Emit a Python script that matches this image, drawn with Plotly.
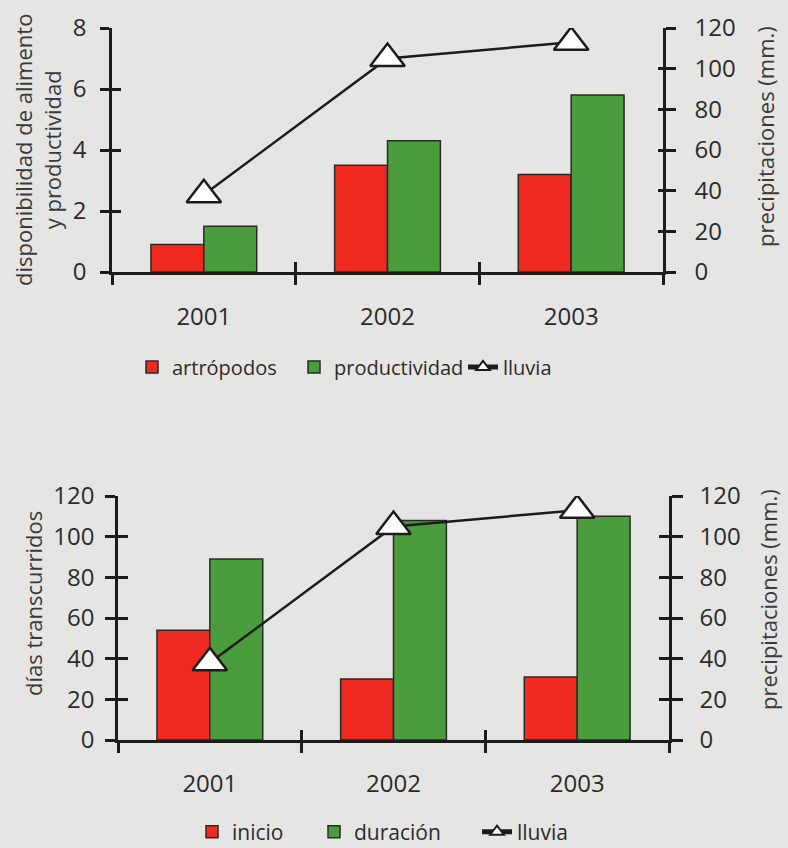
import plotly.graph_objects as go

# ---- data ----
years = ["2001", "2002", "2003"]
artropodos = [0.9, 3.5, 3.2]
productividad = [1.5, 4.3, 5.8]
lluvia = [38, 105, 113]
inicio = [54, 30, 31]
duracion = [89, 108, 110]

RED = "#ee2a21"
GREEN = "#4a9c3c"
EDGE = "#2a2a2a"
AX = "#1c1c1c"
TXT = "#2b2b2b"
BG = "#e5e5e3"
FONT = "Open Sans"

W, H = 788, 848


def px_x(v):
    return v / W


def px_y(v):
    return 1 - v / H


fig = go.Figure()

bar_line = dict(color=EDGE, width=1.5)
tri = dict(symbol="triangle-up", size=30, color="white", line=dict(color=AX, width=2.5))

# top chart
fig.add_trace(go.Bar(x=years, y=artropodos, name="artrópodos", marker=dict(color=RED, line=bar_line),
                     xaxis="x", yaxis="y", legend="legend"))
fig.add_trace(go.Bar(x=years, y=productividad, name="productividad", marker=dict(color=GREEN, line=bar_line),
                     xaxis="x", yaxis="y", legend="legend2"))
fig.add_trace(go.Scatter(x=years, y=lluvia, name="lluvia", mode="lines+markers",
                         line=dict(color=AX, width=2.5), marker=tri,
                         xaxis="x", yaxis="y2", legend="legend3"))
# bottom chart
fig.add_trace(go.Bar(x=years, y=inicio, name="inicio", marker=dict(color=RED, line=bar_line),
                     xaxis="x2", yaxis="y3", legend="legend4"))
fig.add_trace(go.Bar(x=years, y=duracion, name="duración", marker=dict(color=GREEN, line=bar_line),
                     xaxis="x2", yaxis="y3", legend="legend5"))
fig.add_trace(go.Scatter(x=years, y=lluvia, name="lluvia", mode="lines+markers",
                         line=dict(color=AX, width=2.5), marker=tri,
                         xaxis="x2", yaxis="y4", legend="legend6"))

# invisible helper traces so the tick-overlay axes are drawn
for xa, ya in [("x3", "y5"), ("x", "y6"), ("x4", "y7"), ("x2", "y8")]:
    fig.add_trace(go.Scatter(x=years, y=[None, None, None], mode="markers", showlegend=False,
                             hoverinfo="skip", xaxis=xa, yaxis=ya))

tickfont = dict(family=FONT, size=24, color=TXT)

top_xdom = [px_x(112), px_x(663)]
top_ydom = [px_y(272), px_y(28)]
bot_xdom = [px_x(118), px_x(669)]
bot_ydom = [px_y(740), px_y(496)]


def xcat(domain, anchor, overlay=None, standoff=21):
    d = dict(type="category", categoryorder="array", categoryarray=years, range=[-0.5, 2.5],
             anchor=anchor, tickson="boundaries", ticklen=10, tickwidth=2.5, tickcolor=AX,
             showgrid=False, zeroline=False, fixedrange=True)
    if overlay:
        d.update(overlaying=overlay, ticks="inside", showticklabels=False, showline=False)
    else:
        d.update(domain=domain, ticks="outside", showline=True, linecolor=AX, linewidth=2.5,
                 tickfont=dict(family=FONT, size=24, color=TXT), ticklabelstandoff=standoff)
    return d


def yax(rng, dt, anchor, side, domain=None, overlay=None, ticks="outside", ticklen=9,
        labels=True, line=True, standoff=8):
    d = dict(range=rng, dtick=dt, tick0=0, anchor=anchor, side=side, ticks=ticks, ticklen=ticklen,
             tickwidth=2.5, tickcolor=AX, showgrid=False, zeroline=False, fixedrange=True,
             showticklabels=labels, showline=line, linecolor=AX, linewidth=2.5,
             tickfont=tickfont)
    if labels:
        d["ticklabelstandoff"] = standoff
    if domain is not None:
        d["domain"] = domain
    if overlay:
        d["overlaying"] = overlay
    return d


def leg(sym_cx, cy, size, sizing="trace"):
    return dict(orientation="h", x=px_x(sym_cx - 20), y=px_y(cy), xanchor="left", yanchor="middle",
                bgcolor="rgba(0,0,0,0)", borderwidth=0, itemsizing=sizing,
                font=dict(family=FONT, size=size, color=TXT))


fig.update_layout(
    width=W, height=H,
    margin=dict(l=0, r=0, t=0, b=0, autoexpand=False),
    paper_bgcolor=BG, plot_bgcolor=BG,
    font=dict(family=FONT, color=TXT),
    barmode="group", bargap=0.424, bargroupgap=0,
    xaxis=xcat(top_xdom, "y", standoff=21),
    xaxis3=xcat(top_xdom, "y", overlay="x"),
    yaxis=yax([0, 8], 2, "x", "left", domain=top_ydom, standoff=9),
    yaxis5=yax([0, 8], 2, "x", "left", overlay="y", ticks="inside", labels=False, line=False),
    yaxis2=yax([0, 120], 20, "x", "right", overlay="y", ticklen=10, standoff=14),
    yaxis6=yax([0, 120], 20, "x", "right", overlay="y", ticks="inside", ticklen=5, labels=False, line=False),
    xaxis2=xcat(bot_xdom, "y3", standoff=20),
    xaxis4=xcat(bot_xdom, "y3", overlay="x2"),
    yaxis3=yax([0, 120], 20, "x2", "left", domain=bot_ydom, ticklen=10, standoff=6),
    yaxis7=yax([0, 120], 20, "x2", "left", overlay="y3", ticks="inside", ticklen=10, labels=False, line=False),
    yaxis4=yax([0, 120], 20, "x2", "right", overlay="y3", ticklen=11, standoff=12),
    yaxis8=yax([0, 120], 20, "x2", "right", overlay="y3", ticks="inside", ticklen=10, labels=False, line=False),
    legend=leg(152, 367, 20),
    legend2=leg(314, 367, 20),
    legend3=leg(483, 367, 20, sizing="constant"),
    legend4=leg(212, 832, 21),
    legend5=leg(334, 832, 21),
    legend6=leg(497, 832, 21, sizing="constant"),
    showlegend=True,
)

title_font = dict(family=FONT, size=22, color="#3a3a3a")
annos = [
    ("disponibilidad de alimento<br>y productividad", 38, 150),
    ("precipitaciones (mm.)", 765, 137),
    ("días transcurridos", 33, 604),
    ("precipitaciones (mm.)", 768, 600),
]
for text, cx, cy in annos:
    fig.add_annotation(text=text, x=px_x(cx), y=px_y(cy), xref="paper", yref="paper",
                       xanchor="center", yanchor="middle", textangle=-90, showarrow=False,
                       font=title_font)

fig.write_html("out.html", config={"displayModeBar": False},
               post_script="document.body.style.margin='0px';")
